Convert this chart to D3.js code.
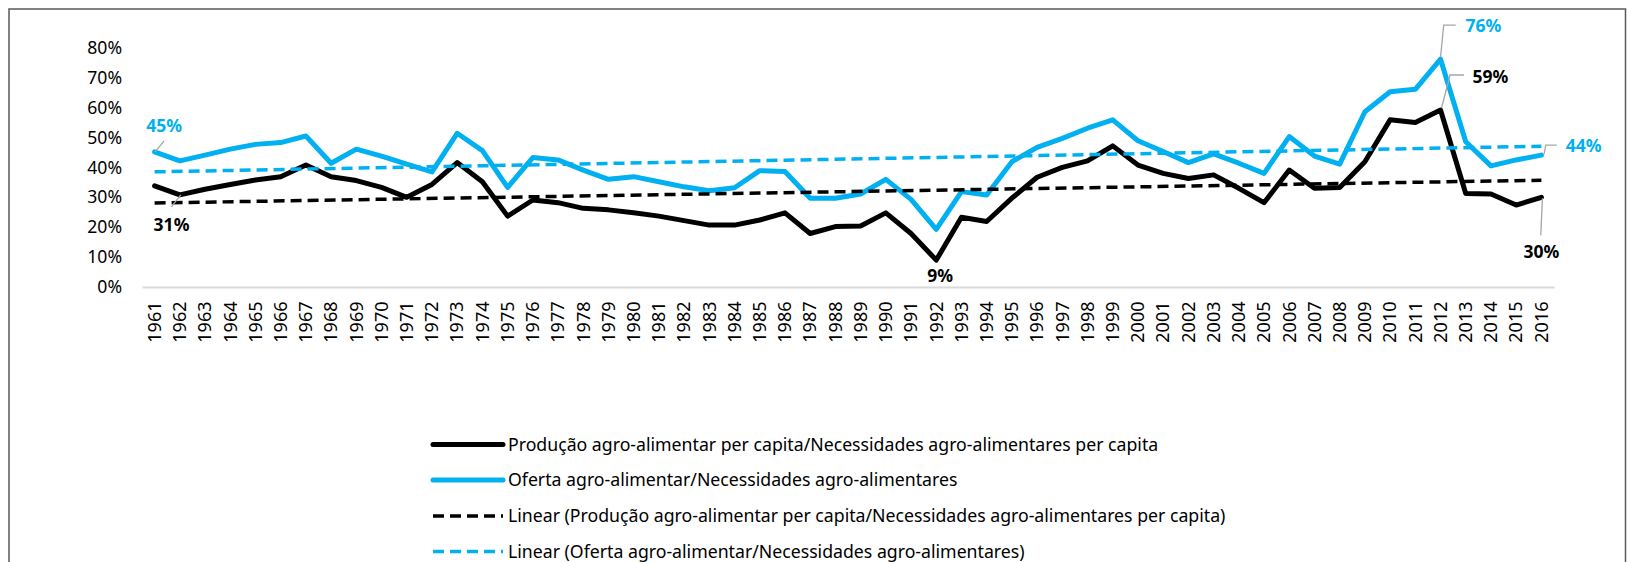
<!DOCTYPE html>
<html><head><meta charset="utf-8">
<script src="https://cdn.jsdelivr.net/npm/d3@7"></script>
<style>
body{margin:0;background:#fff;}
svg{display:block;font-family:"Noto Sans","Open Sans",sans-serif;}
</style>
</head><body>
<svg id="chart" width="1627" height="562"></svg>
<script>
// ---- data ----
const years = [1961,1962,1963,1964,1965,1966,1967,1968,1969,1970,1971,1972,1973,1974,1975,1976,1977,1978,1979,1980,1981,1982,1983,1984,1985,1986,1987,1988,1989,1990,1991,1992,1993,1994,1995,1996,1997,1998,1999,2000,2001,2002,2003,2004,2005,2006,2007,2008,2009,2010,2011,2012,2013,2014,2015,2016];
const producao = [33.8,30.8,32.7,34.3,35.8,36.9,40.8,36.9,35.6,33.3,30.0,34.3,41.6,35.2,23.7,29.1,28.2,26.3,25.8,24.8,23.7,22.2,20.7,20.7,22.4,24.8,17.9,20.2,20.4,24.8,17.9,9.0,23.3,21.9,29.7,36.7,40.0,42.2,47.2,40.8,38.0,36.3,37.5,33.0,28.2,39.1,33.0,33.3,41.9,55.9,55.0,59.2,31.3,31.1,27.4,30.0];
const oferta = [45.2,42.2,44.1,46.1,47.7,48.3,50.5,41.4,46.1,43.8,41.1,38.5,51.4,45.6,33.3,43.3,42.5,39.1,36.0,36.9,35.2,33.5,32.2,33.2,38.9,38.6,29.7,29.7,31.1,36.0,29.3,19.3,31.9,30.8,41.9,46.7,49.7,53.1,55.9,48.9,45.3,41.6,44.5,41.4,38.0,50.3,43.8,41.1,58.6,65.3,66.1,76.2,48.6,40.5,42.5,44.1];
const yTicks = [0,10,20,30,40,50,60,70,80];
const seriesNames = [
  "Produção agro-alimentar per capita/Necessidades agro-alimentares per capita",
  "Oferta agro-alimentar/Necessidades agro-alimentares",
  "Linear (Produção agro-alimentar per capita/Necessidades agro-alimentares per capita)",
  "Linear (Oferta agro-alimentar/Necessidades agro-alimentares)"
];
const labelledPoints = [
  {series:"oferta", year:1961},
  {series:"producao", year:1962},
  {series:"producao", year:1992},
  {series:"oferta", year:2012},
  {series:"producao", year:2012},
  {series:"oferta", year:2016},
  {series:"producao", year:2016}
];

// ---- layout / style ----
const BLUE = "#00B0F0", BLACK = "#000000";
const FONT = '"Noto Sans","Open Sans",sans-serif';
const svg = d3.select("#chart");
const plot = {left:142, right:1554, top:47.8, bottom:287};

const labelLayout = {
  "oferta-1961":   {dx:9.5, dy:-19.5, anchor:"middle", leader:[[0.5,0],[9.5,-11]]},
  "producao-1962": {dx:-8.3, dy:35.8, anchor:"middle", leader:[[1,0],[-8.5,12]]},
  "producao-1992": {dx:4, dy:22, anchor:"middle", leader:null},
  "oferta-2012":   {dx:25, dy:-26.7, anchor:"start", leader:[[0,-2],[3.2,-34],[15.2,-34]]},
  "producao-2012": {dx:32, dy:-26.5, anchor:"start", leader:[[1,-2],[9.5,-35],[23.5,-35]]},
  "oferta-2016":   {dx:24.4, dy:-3, anchor:"start", leader:[[2.7,-1],[4.4,-10],[15.4,-10]]},
  "producao-2016": {dx:0, dy:60.7, anchor:"middle", leader:[[1,1],[-0.6,38]]}
};

// border
svg.append("rect").attr("x",9).attr("y",9).attr("width",1616.5).attr("height",620)
  .attr("fill","none").attr("stroke","#595959").attr("stroke-width",1.5);

const x = d3.scaleBand().domain(years).range([plot.left, plot.right]);
const xc = d => x(d) + x.bandwidth()/2;
const y = d3.scaleLinear().domain([0,80]).range([plot.bottom, plot.top]);

// y axis
const yAxis = svg.append("g").attr("transform",`translate(${plot.left},0)`)
  .call(d3.axisLeft(y).tickValues(yTicks).tickFormat(d => d + "%").tickSize(0).tickPadding(20));
yAxis.select(".domain").remove();
yAxis.selectAll("text").attr("font-size",17.6).attr("fill","#000").style("font-family",FONT);

// x axis
const xAxis = svg.append("g").attr("transform",`translate(0,${plot.bottom})`)
  .call(d3.axisBottom(x).tickSize(0).tickSizeOuter(0));
xAxis.select(".domain").attr("stroke","#D9D9D9").attr("stroke-width",2);
xAxis.selectAll("text")
  .attr("transform","rotate(-90)")
  .attr("x",-14.5).attr("y",0).attr("dy","0.35em")
  .attr("text-anchor","end")
  .attr("font-size",18).attr("fill","#000")
  .style("font-family",FONT);

// linear trend (least squares, as Excel's linear trendline)
function trend(vals){
  const n = vals.length, xs = d3.range(n);
  const mx = d3.mean(xs), my = d3.mean(vals);
  const b = d3.sum(xs, (xi,i) => (xi-mx)*(vals[i]-my)) / d3.sum(xs, xi => (xi-mx)*(xi-mx));
  const a = my - b*mx;
  return [{year:years[0], v:a}, {year:years[n-1], v:a + b*(n-1)}];
}

const line = d3.line().x(d => xc(d.year)).y(d => y(d.v));
const prodPts = years.map((yr,i) => ({year:yr, v:producao[i]}));
const ofPts = years.map((yr,i) => ({year:yr, v:oferta[i]}));

svg.append("path").datum(prodPts).attr("d",line).attr("fill","none")
  .attr("stroke",BLACK).attr("stroke-width",5).attr("stroke-linejoin","round").attr("stroke-linecap","round");
svg.append("path").datum(ofPts).attr("d",line).attr("fill","none")
  .attr("stroke",BLUE).attr("stroke-width",5).attr("stroke-linejoin","round").attr("stroke-linecap","round");
svg.append("path").datum(trend(producao)).attr("d",line).attr("fill","none")
  .attr("stroke",BLACK).attr("stroke-width",3.5).attr("stroke-dasharray","11,6");
svg.append("path").datum(trend(oferta)).attr("d",line).attr("fill","none")
  .attr("stroke",BLUE).attr("stroke-width",3.5).attr("stroke-dasharray","11,6");

// data labels
const seriesData = {producao, oferta};
const seriesColor = {producao:BLACK, oferta:BLUE};
labelledPoints.forEach(p => {
  const i = years.indexOf(p.year);
  const v = seriesData[p.series][i];
  const px = xc(p.year), py = y(v);
  const L = labelLayout[p.series + "-" + p.year];
  if (L.leader) {
    svg.append("path")
      .attr("d", d3.line()(L.leader.map(o => [px+o[0], py+o[1]])))
      .attr("fill","none").attr("stroke","#A6A6A6").attr("stroke-width",1.3);
  }
  svg.append("text").attr("x",px+L.dx).attr("y",py+L.dy)
    .attr("text-anchor",L.anchor).attr("font-size",17.5).attr("font-weight","bold")
    .attr("fill",seriesColor[p.series]).text(Math.round(v) + "%");
});

// legend
const legendStyles = [
  {color:BLACK, width:5, dash:null},
  {color:BLUE, width:5, dash:null},
  {color:BLACK, width:3.5, dash:"11,6"},
  {color:BLUE, width:3.5, dash:"11,6"}
];
const legendY = [444.5, 480, 516, 551.5];
seriesNames.forEach((name,i) => {
  const st = legendStyles[i];
  const g = svg.append("g").attr("transform",`translate(0,${legendY[i]})`);
  g.append("line").attr("x1",433).attr("x2",503).attr("y1",0).attr("y2",0)
    .attr("stroke",st.color).attr("stroke-width",st.width)
    .attr("stroke-linecap", st.dash ? "butt" : "round")
    .attr("stroke-dasharray", st.dash);
  g.append("text").attr("x",508).attr("y",0).attr("dy","0.35em")
    .attr("font-size",17.7).attr("fill","#000").text(name);
});
</script>
</body></html>
